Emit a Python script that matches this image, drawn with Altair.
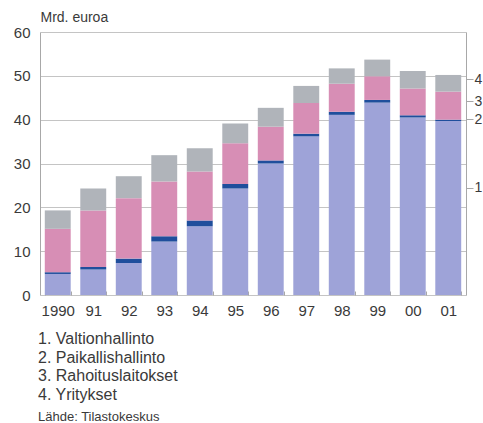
import altair as alt
import pandas as pd

# Finnish public debt holders, billions of euros, 1990-2001
years = ["1990", "91", "92", "93", "94", "95", "96", "97", "98", "99", "00", "01"]
series = ["Valtionhallinto", "Paikallishallinto", "Rahoituslaitokset", "Yritykset"]
valtionhallinto = [4.8, 5.8, 7.3, 12.2, 15.7, 24.3, 30.0, 36.2, 41.1, 43.9, 40.5, 39.7]
paikallishallinto = [0.4, 0.6, 1.0, 1.2, 1.3, 1.0, 0.7, 0.6, 0.7, 0.6, 0.5, 0.3]
rahoituslaitokset = [9.9, 12.9, 13.8, 12.5, 11.2, 9.3, 7.7, 7.0, 6.4, 5.4, 6.1, 6.4]
yritykset = [4.2, 5.0, 5.0, 6.0, 5.3, 4.5, 4.3, 3.9, 3.5, 3.8, 4.0, 3.8]
colors = ["#9ea3d8", "#1f4e9c", "#d78eb5", "#b0b4ba"]

# series key markers on the right-hand axis
key_labels = ["1", "2", "3", "4"]
key_levels = [24.5, 40.1, 44.2, 49.2]

legend_lines = ["1. Valtionhallinto", "2. Paikallishallinto",
                "3. Rahoituslaitokset", "4. Yritykset"]
source = "Lähde: Tilastokeskus"

FONT = "Liberation Sans"
TEXT = "#3a3a3a"
LINE = "#a8a8a8"

rows = []
for i, name in enumerate(series):
    vals = [valtionhallinto, paikallishallinto, rahoituslaitokset, yritykset][i]
    for y, v in zip(years, vals):
        rows.append({"vuosi": y, "sarja": name, "arvo": v, "jarj": i})
df = pd.DataFrame(rows)
keys = pd.DataFrame({"taso": key_levels, "nimi": key_labels})

yscale = alt.Scale(domain=[0, 60], nice=False)

label_expr = "datum.value > 48 ? '4' : datum.value > 42 ? '3' : datum.value > 35 ? '2' : '1'"

bars = alt.Chart(df).mark_bar(strokeWidth=0.9, strokeDash=[2, 1.5], stroke="#555").encode(
    x=alt.X("vuosi:N", sort=years, title=None,
            scale=alt.Scale(paddingInner=0.27, paddingOuter=0.135),
            axis=alt.Axis(labelAngle=0, labelFont=FONT, labelFontSize=15, labelColor=TEXT,
                          labelPadding=8, domain=False, ticks=True, tickBand="extent",
                          tickSize=4, tickColor=LINE, offset=-4)),
    y=alt.Y("arvo:Q", stack="zero", scale=yscale,
            axis=alt.Axis(values=[0, 10, 20, 30, 40, 50, 60], ticks=False,
                          labelFont=FONT, labelFontSize=15, labelColor=TEXT, labelPadding=10,
                          domainColor=LINE, gridColor="#c4c4c4", grid=True,
                          title="Mrd. euroa", titleAngle=0, titleAlign="left",
                          titleBaseline="bottom", titleX=0, titleY=-8,
                          titleFont=FONT, titleFontSize=14, titleFontWeight="normal",
                          titleColor=TEXT)),
    color=alt.Color("sarja:N", scale=alt.Scale(domain=series, range=colors), legend=None),
    strokeOpacity=alt.StrokeOpacity("sarja:N", legend=None,
                                    scale=alt.Scale(domain=series, range=[0, 0, 0.7, 0.7])),
    order=alt.Order("jarj:Q"),
)

key_axis = alt.Chart(keys).mark_point(opacity=0).encode(
    y=alt.Y("taso:Q", scale=yscale,
            axis=alt.Axis(orient="right", values=key_levels, labelExpr=label_expr,
                          grid=False, tickSize=7, tickColor=LINE, domainColor=LINE,
                          labelFont=FONT, labelFontSize=14, labelColor=TEXT,
                          labelPadding=1, title=None)),
)

chart = alt.layer(bars, key_axis).resolve_axis(y="independent").properties(
    width=426,
    height=263,
    autosize=alt.AutoSizeParams(type="none"),
    padding={"left": 40, "top": 32, "right": 17, "bottom": 128},
    title=alt.TitleParams(text=legend_lines, subtitle=source, orient="bottom",
                          anchor="start", frame="group", offset=13,
                          font=FONT, fontSize=16, fontWeight="normal", color=TEXT,
                          lineHeight=18.5, subtitleFont=FONT, subtitleFontSize=13,
                          subtitleColor=TEXT, subtitlePadding=8, dx=-2),
).configure_view(stroke=None)

chart.save("out.html", embed_options={"renderer": "svg", "actions": False})
